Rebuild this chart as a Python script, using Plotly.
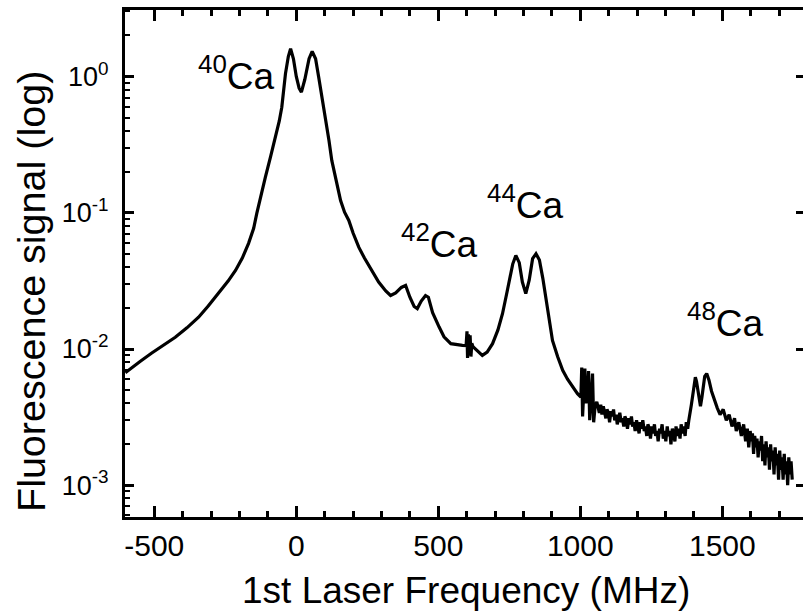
import plotly.graph_objects as go

# ---------------- data ----------------
freq_mhz = [
    -602, -580, -550, -510, -470, -426, -385, -344, -310, -273, -240, -214, -190, -168, -150,
    -139, -125, -109, -90, -73, -60, -51, -38, -28, -20, -10, 0, 10, 18, 30, 45, 56, 68, 79,
    90, 103, 115, 125, 140, 156, 170, 185, 200, 220, 240, 266, 290, 315, 332, 350, 370, 385,
    400, 415, 426, 440, 455, 465, 480, 503, 520, 544, 565, 585, 598, 601, 603, 606, 609, 612,
    615, 618, 622, 635, 655, 672, 691, 710, 726, 740, 750, 762, 773, 785, 796, 808, 820, 832,
    844, 856, 868, 879, 890, 902, 920, 938, 955, 973, 990, 1002, 1005, 1008, 1012, 1016, 1020,
    1025, 1029, 1033, 1038, 1043, 1047, 1052, 1058, 1063, 1067, 1072, 1076, 1081, 1085, 1090,
    1094, 1099, 1103, 1108, 1112, 1117, 1121, 1126, 1130, 1135, 1139, 1144, 1148, 1153, 1157,
    1162, 1166, 1171, 1175, 1180, 1184, 1189, 1193, 1198, 1202, 1207, 1211, 1216, 1220, 1225,
    1229, 1234, 1238, 1243, 1247, 1252, 1256, 1261, 1265, 1270, 1274, 1279, 1283, 1288, 1292,
    1297, 1301, 1306, 1310, 1315, 1319, 1324, 1328, 1333, 1337, 1342, 1346, 1351, 1355, 1360,
    1364, 1369, 1373, 1378, 1382, 1387, 1391, 1396, 1400, 1405, 1409, 1414, 1418, 1423, 1428,
    1433, 1438, 1445, 1453, 1462, 1473, 1482, 1492, 1503, 1514, 1524, 1534, 1543, 1549, 1558,
    1567, 1575, 1582, 1588, 1593, 1598, 1602, 1606, 1610, 1614, 1618, 1622, 1626, 1630, 1634,
    1638, 1642, 1646, 1650, 1654, 1658, 1662, 1666, 1670, 1674, 1678, 1682, 1686, 1690, 1694,
    1698, 1702, 1706, 1710, 1714, 1718, 1722, 1726, 1730, 1734, 1738, 1742, 1746, 1750, 1754,
    1758, 1762, 1766, 1770, 1774, 1778, 1782, 1786,
]
signal = [
    0.0067, 0.0073, 0.0081, 0.0093, 0.0106, 0.0122, 0.0143, 0.0171, 0.0207, 0.0256, 0.0315,
    0.0377, 0.0465, 0.0596, 0.0770, 0.0988, 0.135, 0.182, 0.26, 0.359, 0.47, 0.595, 1.05, 1.40,
    1.60, 1.35, 1.00, 0.82, 0.767, 0.95, 1.35, 1.53, 1.35, 0.988, 0.72, 0.476, 0.34, 0.242,
    0.170, 0.123, 0.101, 0.0878, 0.071, 0.0559, 0.0465, 0.0377, 0.031, 0.0267, 0.0247, 0.0258,
    0.0283, 0.0293, 0.024, 0.0205, 0.0198, 0.0225, 0.0247, 0.0240, 0.0185, 0.01448, 0.0123,
    0.01094, 0.0107, 0.01062, 0.0106, 0.0135, 0.0086, 0.0128, 0.0092, 0.0126, 0.0088, 0.0110,
    0.0104, 0.0098, 0.00898, 0.0095, 0.01094, 0.0138, 0.01815, 0.025, 0.0319, 0.042, 0.0486,
    0.043, 0.031, 0.0255, 0.032, 0.046, 0.050, 0.045, 0.033, 0.0240, 0.0165, 0.01156, 0.0088,
    0.00697, 0.0060, 0.00525, 0.0047, 0.00443, 0.0073, 0.0032, 0.0046, 0.0072, 0.0040, 0.0044,
    0.0069, 0.0030, 0.0042, 0.0066, 0.0029, 0.0038, 0.0041, 0.0037, 0.0034, 0.0039, 0.0033,
    0.0038, 0.0035, 0.0031, 0.0036, 0.0034, 0.0029, 0.0035, 0.0032, 0.0036, 0.0030, 0.0033,
    0.0028, 0.0032, 0.0034, 0.0029, 0.0031, 0.0027, 0.0032, 0.0030, 0.0026, 0.0031, 0.0028,
    0.0032, 0.0027, 0.0029, 0.0025, 0.0030, 0.0027, 0.0024, 0.0029, 0.0026, 0.0030, 0.0025,
    0.0027, 0.0023, 0.0028, 0.0026, 0.0022, 0.0027, 0.0024, 0.0028, 0.0023, 0.0025, 0.0021,
    0.0026, 0.0024, 0.0028, 0.0022, 0.0025, 0.0021, 0.0027, 0.0023, 0.0025, 0.0020, 0.0026,
    0.0024, 0.0021, 0.0027, 0.0023, 0.0026, 0.0022, 0.0028, 0.0024, 0.0027, 0.0023, 0.0029,
    0.0026, 0.0030, 0.0034, 0.0039, 0.0046, 0.0055, 0.0062, 0.0058, 0.0049, 0.0042, 0.0038,
    0.0044, 0.0055, 0.0063, 0.0066, 0.0059, 0.0049, 0.0041, 0.0037, 0.0033, 0.0036, 0.0030,
    0.0033, 0.0027, 0.0031, 0.0025, 0.0029, 0.0023, 0.0028, 0.0021, 0.0026, 0.0019, 0.0025,
    0.0021, 0.0024, 0.0017, 0.0023, 0.0019, 0.0022, 0.0016, 0.0021, 0.0018, 0.0023, 0.0015,
    0.0020, 0.0014, 0.0021, 0.0016, 0.0019, 0.0013, 0.0020, 0.0015, 0.0018, 0.0012, 0.0019,
    0.0014, 0.0017, 0.0011, 0.0018, 0.0013, 0.0016, 0.0011, 0.0017, 0.0012, 0.0015, 0.0010,
    0.0016, 0.0012, 0.0015, 0.0011,
]

x_major_ticks = [-500, 0, 500, 1000, 1500]
y_major_ticks = [1e-3, 1e-2, 1e-1, 1]
y_major_text = ["10<sup>-3</sup>", "10<sup>-2</sup>", "10<sup>-1</sup>", "10<sup>0</sup>"]
y_minor_ticks = [m * 10.0 ** e for e in (-4, -3, -2, -1, 0) for m in range(2, 10)]

isotope_labels = ["<sup>40</sup>Ca", "<sup>42</sup>Ca", "<sup>44</sup>Ca", "<sup>48</sup>Ca"]
label_px = [(236, 74), (439, 241), (525, 203), (725, 320)]  # label centres in pixels

x_title = "1st Laser Frequency (MHz)"
y_title = "Fluorescence signal (log)"

# ---------------- layout geometry ----------------
W, H = 803, 613
L, R, T, B = 125, 0, 10, 96
pw, ph = W - L - R, H - T - B
FONT = "Liberation Sans, Arial, Helvetica, sans-serif"


def px2paper(px, py):
    return (px - L) / pw, (H - B - py) / ph


fig = go.Figure()
fig.add_trace(go.Scatter(x=freq_mhz, y=signal, mode="lines",
                         line=dict(color="black", width=3.2), showlegend=False))
# empty traces so the mirror axes (top x ticks, right y ticks) are drawn
fig.add_trace(go.Scatter(x=[None], y=[None], yaxis="y2", showlegend=False, hoverinfo="skip"))
fig.add_trace(go.Scatter(x=[None], y=[None], xaxis="x2", showlegend=False, hoverinfo="skip"))

annotations = []
for txt, (px, py) in zip(isotope_labels, label_px):
    ax_, ay_ = px2paper(px, py)
    annotations.append(dict(text=txt, x=ax_, y=ay_, xref="paper", yref="paper",
                            xanchor="center", yanchor="middle", showarrow=False,
                            font=dict(family=FONT, size=37, color="black")))
tx, ty = px2paper(466, 590)
annotations.append(dict(text=x_title, x=tx, y=ty, xref="paper", yref="paper",
                        xanchor="center", yanchor="middle", showarrow=False,
                        font=dict(family=FONT, size=37, color="black")))
yx, yy = px2paper(31, 292)
annotations.append(dict(text=y_title, x=yx, y=yy, xref="paper", yref="paper",
                        xanchor="center", yanchor="middle", showarrow=False, textangle=-90,
                        font=dict(family=FONT, size=39.5, color="black")))

xrange_ = [-603, 1784]
yrange = [-3.233, 0.488]
tick_common = dict(ticks="inside", tickcolor="black", tickwidth=2.5)
fig.update_layout(
    width=W, height=H,
    margin=dict(l=L, r=R, t=T, b=B, pad=0),
    paper_bgcolor="white", plot_bgcolor="white",
    font=dict(family=FONT, color="black"),
    annotations=annotations,
    xaxis=dict(range=xrange_, showgrid=False, zeroline=False,
               showline=True, linecolor="black", linewidth=3, mirror=True,
               ticklen=11, tickvals=x_major_ticks, ticktext=[str(v) for v in x_major_ticks],
               tickfont=dict(family=FONT, size=30, color="black"),
               minor=dict(dtick=100, tick0=0, ticks="inside", ticklen=6, tickwidth=2.5,
                          tickcolor="black", showgrid=False), **tick_common),
    xaxis2=dict(range=xrange_, overlaying="x", side="top", showgrid=False, zeroline=False,
                showline=False, showticklabels=False, ticklen=11, tickvals=x_major_ticks,
                minor=dict(dtick=100, tick0=0, ticks="inside", ticklen=6, tickwidth=2.5,
                           tickcolor="black", showgrid=False), **tick_common),
    yaxis=dict(type="log", range=yrange, showgrid=False, zeroline=False,
               showline=True, linecolor="black", linewidth=3, mirror=False,
               ticklen=9, tickvals=y_major_ticks, ticktext=y_major_text,
               ticklabelstandoff=8,
               tickfont=dict(family=FONT, size=27, color="black"),
               minor=dict(tickmode="array", tickvals=y_minor_ticks, ticks="inside",
                          ticklen=5, tickwidth=2.2, tickcolor="black", showgrid=False),
               **tick_common),
    yaxis2=dict(type="log", range=yrange, overlaying="y", side="right", showgrid=False,
                zeroline=False, showline=False, showticklabels=False,
                ticklen=7, tickvals=y_major_ticks, **tick_common),
)

fig.write_html("out.html")
